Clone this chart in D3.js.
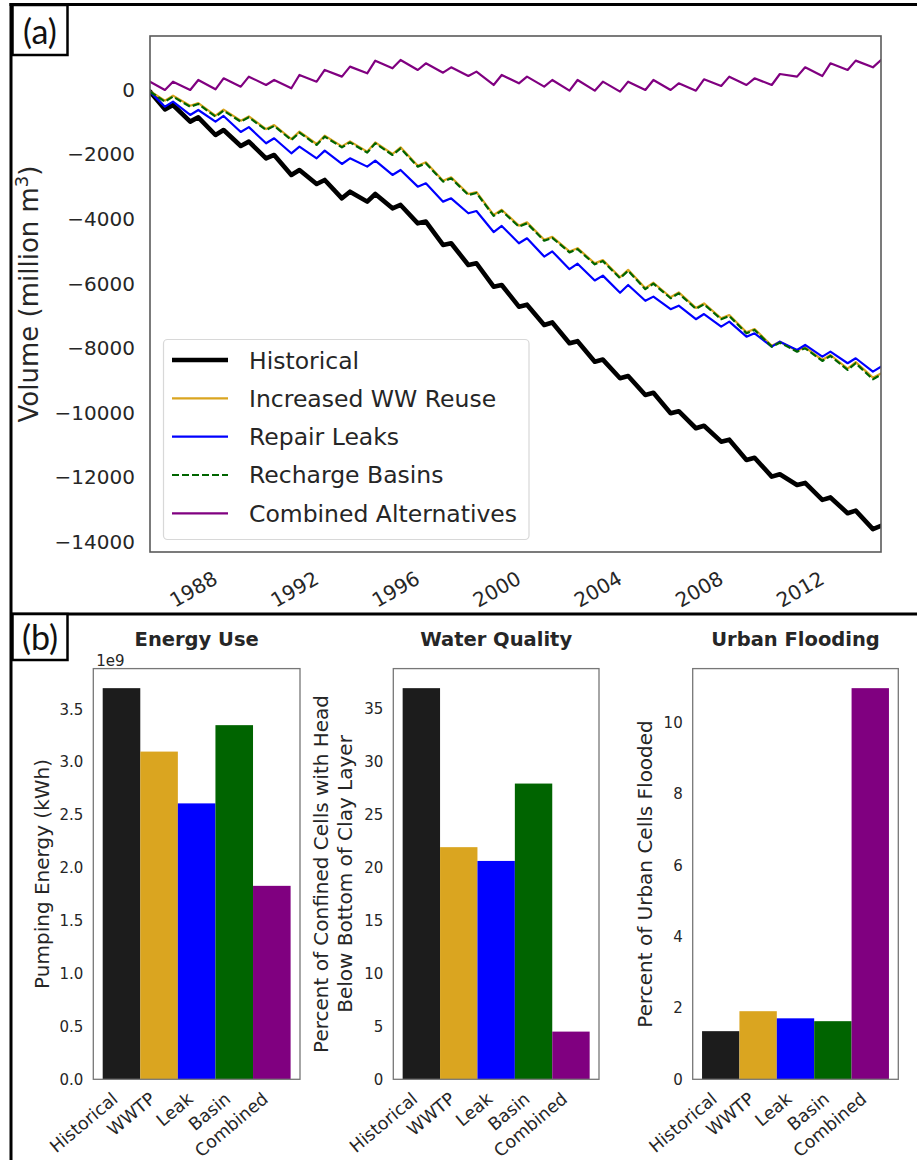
<!DOCTYPE html>
<html><head><meta charset="utf-8">
<script src="https://cdn.jsdelivr.net/npm/d3@7"></script>
<style>body{margin:0;background:#fff} svg{display:block}</style>
</head><body>
<svg id="c" width="917" height="1160"></svg>
<script>
// ---------- DATA ----------
const years = [1985.29, 1985.88, 1986.2, 1986.88, 1987.2, 1987.88, 1988.2, 1988.88, 1989.2, 1989.88,
  1990.2, 1990.88, 1991.2, 1991.88, 1992.2, 1992.88, 1993.2, 1993.88, 1994.2, 1994.88,
  1995.2, 1995.88, 1996.2, 1996.88, 1997.2, 1997.88, 1998.2, 1998.88, 1999.2, 1999.88,
  2000.2, 2000.88, 2001.2, 2001.88, 2002.2, 2002.88, 2003.2, 2003.88, 2004.2, 2004.88,
  2005.2, 2005.88, 2006.2, 2006.88, 2007.2, 2007.88, 2008.2, 2008.88, 2009.2, 2009.88,
  2010.2, 2010.88, 2011.2, 2011.88, 2012.2, 2012.88, 2013.2, 2013.88, 2014.2];

const historical = [-50, -600, -465, -980, -846, -1394, -1239, -1734, -1600, -2116,
  -2013, -2632, -2480, -2911, -2787, -3355, -3150, -3458, -3221, -3665,
  -3561, -4130, -4077, -4800, -4748, -5420, -5367, -6092, -6040, -6711,
  -6650, -7278, -7200, -7845, -7780, -8415, -8350, -8929, -8860, -9446,
  -9380, -10013, -9950, -10477, -10400, -10892, -10830, -11459, -11390, -11976,
  -11900, -12233, -12170, -12697, -12620, -13109, -13030, -13600, -13500];

const wwReuse = [-40, -330, -175, -487, -404, -796, -610, -951, -817, -1209,
  -1085, -1519, -1291, -1673, -1415, -1746, -1591, -1911, -1622, -1983,
  -1777, -2344, -2241, -2808, -2705, -3222, -3160, -3870, -3710, -4203,
  -4100, -4640, -4550, -5000, -4900, -5370, -5270, -5800, -5570, -6140,
  -5970, -6420, -6270, -6750, -6610, -7070, -6970, -7506, -7403, -7920,
  -7796, -8075, -7970, -8363, -8208, -8630, -8430, -8910, -8780];

const repairLeaks = [-50, -517, -362, -774, -619, -981, -805, -1300, -1150, -1651,
  -1496, -1961, -1755, -2116, -1879, -2292, -2116, -2374, -2188, -2632,
  -2478, -2994, -2890, -3458, -3355, -3819, -3750, -4400, -4210, -4748,
  -4593, -5161, -5000, -5550, -5380, -5900, -5750, -6280, -6040, -6530,
  -6400, -6790, -6680, -7100, -6940, -7330, -7175, -7640, -7536, -7950,
  -7795, -8052, -7897, -8260, -8105, -8464, -8309, -8724, -8569];

const rechargeBasins = [-50, -362, -207, -517, -434, -826, -640, -981, -847, -1239,
  -1115, -1549, -1321, -1703, -1445, -1776, -1621, -1941, -1652, -2013,
  -1807, -2374, -2271, -2838, -2735, -3252, -3190, -3900, -3740, -4233,
  -4130, -4670, -4580, -5030, -4930, -5400, -5300, -5830, -5600, -6170,
  -6000, -6450, -6300, -6780, -6640, -7100, -7000, -7536, -7433, -7950,
  -7826, -8105, -8000, -8393, -8238, -8672, -8464, -8960, -8820];

const combinedAlt = [257, 0, 257, 0, 310, 20, 362, 103, 413, 155,
  310, 52, 465, 257, 620, 413, 723, 516, 909, 671,
  929, 619, 826, 536, 702, 433, 568, 155, 465, 206,
  413, 103, 310, -21, 310, -21, 258, -52, 258, 0,
  310, 0, 206, -21, 330, 124, 413, 155, 362, 155,
  495, 413, 702, 433, 826, 619, 909, 702, 929];

const xTickYears = [1988, 1992, 1996, 2000, 2004, 2008, 2012];
const yTicksVolume = [0, -2000, -4000, -6000, -8000, -10000, -12000, -14000];
const legendLabels = ["Historical", "Increased WW Reuse", "Repair Leaks", "Recharge Basins", "Combined Alternatives"];

const barCategories = ["Historical", "WWTP", "Leak", "Basin", "Combined"];
const energyUse = [3.70e9, 3.10e9, 2.61e9, 3.35e9, 1.83e9];
const waterQuality = [36.9, 21.9, 20.6, 27.9, 4.5];
const urbanFlooding = [1.35, 1.91, 1.71, 1.63, 10.97];
const energyTicks = [0, 0.5e9, 1.0e9, 1.5e9, 2.0e9, 2.5e9, 3.0e9, 3.5e9];
const qualityTicks = [0, 5, 10, 15, 20, 25, 30, 35];
const floodTicks = [0, 2, 4, 6, 8, 10];

// ---------- STYLE ----------
const FONT = "'DejaVu Sans', sans-serif";
const TXT = "#262626";
const lineStyles = [
  {color: "#000000", width: 4.6, dash: null},
  {color: "#daa520", width: 2.2, dash: null},
  {color: "#0000ff", width: 2.2, dash: null},
  {color: "#006400", width: 2.2, dash: "7,3"},
  {color: "#800080", width: 2.2, dash: null}
];
const barColors = ["#1c1c1c", "#daa520", "#0000ff", "#006400", "#800080"];

const svg = d3.select("#c");

// ---------- outer frame ----------
svg.append("line").attr("x1", 9.5).attr("x2", 917).attr("y1", 4.5).attr("y2", 4.5).attr("stroke", "#000").attr("stroke-width", 3);
svg.append("line").attr("x1", 11).attr("x2", 11).attr("y1", 3).attr("y2", 1160).attr("stroke", "#000").attr("stroke-width", 3);
svg.append("line").attr("x1", 11).attr("x2", 917).attr("y1", 614).attr("y2", 614).attr("stroke", "#000").attr("stroke-width", 3);
svg.append("rect").attr("x", 12.5).attr("y", 5).attr("width", 55).attr("height", 50).attr("fill", "#fff").attr("stroke", "#000").attr("stroke-width", 2.5);
svg.append("text").attr("x", 40).attr("y", 44).attr("text-anchor", "middle").attr("font-family", "Lato, 'Open Sans', sans-serif").attr("font-size", 34).attr("fill", "#111").text("(a)");
svg.append("rect").attr("x", 12.5).attr("y", 614).attr("width", 55).attr("height", 46).attr("fill", "#fff").attr("stroke", "#000").attr("stroke-width", 2.5);
svg.append("text").attr("x", 40).attr("y", 650).attr("text-anchor", "middle").attr("font-family", "Lato, 'Open Sans', sans-serif").attr("font-size", 34).attr("fill", "#111").text("(b)");

// ---------- panel (a) ----------
const A = {l: 150, r: 881, t: 36, b: 552};
const x = d3.scaleLinear().domain([1985.29, 2014.2]).range([A.l, A.r]);
const y = d3.scaleLinear().domain([-14310, 1672]).range([A.b, A.t]);
const gA = svg.append("g");
gA.append("clipPath").attr("id", "clipA").append("rect")
  .attr("x", A.l).attr("y", A.t).attr("width", A.r - A.l).attr("height", A.b - A.t);

const allSeries = [historical, wwReuse, repairLeaks, rechargeBasins, combinedAlt];
const line = d3.line().x((d, i) => x(years[i])).y(d => y(d));
const gLines = gA.append("g").attr("clip-path", "url(#clipA)");
allSeries.forEach((vals, k) => {
  const st = lineStyles[k];
  gLines.append("path").datum(vals).attr("d", line).attr("fill", "none")
    .attr("stroke", st.color).attr("stroke-width", st.width)
    .attr("stroke-dasharray", st.dash).attr("stroke-linejoin", "round").attr("stroke-linecap", st.dash ? "butt" : "round");
});

gA.append("rect").attr("x", A.l).attr("y", A.t).attr("width", A.r - A.l).attr("height", A.b - A.t)
  .attr("fill", "none").attr("stroke", "#5a5a5a").attr("stroke-width", 1.6);

const yAx = gA.append("g").attr("transform", `translate(${A.l},0)`)
  .call(d3.axisLeft(y).tickValues(yTicksVolume).tickSize(0).tickPadding(15).tickFormat(d3.format("d")));
yAx.select(".domain").remove();
yAx.attr("font-family", FONT).attr("font-size", 20).attr("color", TXT);

const xAx = gA.append("g").attr("transform", `translate(0,${A.b})`)
  .call(d3.axisBottom(x).tickValues(xTickYears).tickSize(0).tickFormat(d3.format("d")));
xAx.select(".domain").remove();
xAx.attr("font-family", FONT).attr("font-size", 20).attr("color", TXT);
xAx.selectAll("text").attr("y", 0).attr("dy", null)
  .attr("transform", "translate(0,30.6) rotate(-30)").attr("text-anchor", "end");

const yl = gA.append("text").attr("transform", `translate(38,${(A.t + A.b) / 2}) rotate(-90)`)
  .attr("text-anchor", "middle").attr("font-family", FONT).attr("font-size", 26).attr("fill", TXT);
yl.append("tspan").text("Volume (million m");
yl.append("tspan").attr("font-size", 18).attr("dy", -10).text("3");
yl.append("tspan").attr("dy", 10).text(")");

// legend
const leg = gA.append("g");
leg.append("rect").attr("x", 163.5).attr("y", 339.5).attr("width", 365.5).attr("height", 200).attr("rx", 4)
  .attr("fill", "#fff").attr("fill-opacity", 0.85).attr("stroke", "#d8d8d8").attr("stroke-width", 1.2);
const rowY = d3.scaleLinear().domain([0, 4]).range([360, 513.3]);
legendLabels.forEach((lab, k) => {
  const st = lineStyles[k];
  leg.append("line").attr("x1", 172).attr("x2", 228).attr("y1", rowY(k)).attr("y2", rowY(k))
    .attr("stroke", st.color).attr("stroke-width", st.width).attr("stroke-dasharray", st.dash);
  leg.append("text").attr("x", 249).attr("y", rowY(k) + 8.5).attr("font-family", FONT)
    .attr("font-size", 23.5).attr("fill", TXT).text(lab);
});

// ---------- panel (b) ----------
const B = {t: 668.6, b: 1079.3};
function barPanel(cfg) {
  const g = svg.append("g");
  const xb = d3.scaleBand().domain(barCategories).range([cfg.l, cfg.r]).paddingInner(0).paddingOuter(0.25);
  const yb = d3.scaleLinear().domain([0, d3.max(cfg.values) * 1.05]).range([B.b, B.t]);
  g.selectAll("rect.bar").data(cfg.values).join("rect").attr("class", "bar")
    .attr("x", (d, i) => xb(barCategories[i])).attr("width", xb.bandwidth())
    .attr("y", d => yb(d)).attr("height", d => B.b - yb(d)).attr("fill", (d, i) => barColors[i]);
  g.append("rect").attr("x", cfg.l).attr("y", B.t).attr("width", cfg.r - cfg.l).attr("height", B.b - B.t)
    .attr("fill", "none").attr("stroke", "#777").attr("stroke-width", 1.3);
  const ya = g.append("g").attr("transform", `translate(${cfg.l},0)`)
    .call(d3.axisLeft(yb).tickValues(cfg.ticks).tickSize(0).tickPadding(10).tickFormat(cfg.fmt));
  ya.select(".domain").remove();
  ya.attr("font-family", FONT).attr("font-size", 15).attr("color", TXT);
  const xa = g.append("g").attr("transform", `translate(0,${B.b})`)
    .call(d3.axisBottom(xb).tickSize(0));
  xa.select(".domain").remove();
  xa.attr("font-family", FONT).attr("font-size", 17.5).attr("color", TXT);
  xa.selectAll("text").attr("y", 0).attr("dy", null)
    .attr("transform", "translate(-2.5,21.5) rotate(-40)").attr("text-anchor", "end");
  g.append("text").attr("x", (cfg.l + cfg.r) / 2).attr("y", 645.5).attr("text-anchor", "middle")
    .attr("font-family", FONT).attr("font-weight", "bold").attr("font-size", 19.5).attr("fill", TXT).text(cfg.title);
  cfg.ylabel.forEach((s, k) => {
    g.append("text").attr("transform", `translate(${cfg.ylx[k]},${(B.t + B.b) / 2}) rotate(-90)`)
      .attr("text-anchor", "middle").attr("font-family", FONT).attr("font-size", 20).attr("fill", TXT).text(s);
  });
  if (cfg.offset) {
    g.append("text").attr("x", cfg.l + 3).attr("y", 666).attr("font-family", FONT)
      .attr("font-size", 15).attr("fill", TXT).text(cfg.offset);
  }
}
barPanel({l: 93.3, r: 300, values: energyUse, ticks: energyTicks, fmt: d => (d / 1e9).toFixed(1),
  title: "Energy Use", ylabel: ["Pumping Energy (kWh)"], ylx: [49], offset: "1e9"});
barPanel({l: 393.3, r: 599, values: waterQuality, ticks: qualityTicks, fmt: d3.format("d"),
  title: "Water Quality", ylabel: ["Percent of Confined Cells with Head", "Below Bottom of Clay Layer"], ylx: [328, 352]});
barPanel({l: 692.7, r: 898.3, values: urbanFlooding, ticks: floodTicks, fmt: d3.format("d"),
  title: "Urban Flooding", ylabel: ["Percent of Urban Cells Flooded"], ylx: [652]});
</script>
</body></html>
